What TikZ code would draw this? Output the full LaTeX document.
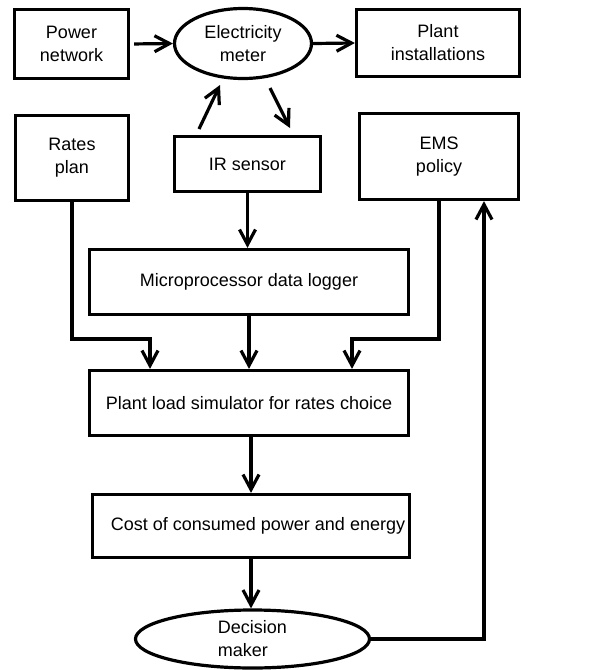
\documentclass[tikz,border=0pt]{standalone}
\usepackage{fontspec}
\setmainfont{Liberation Sans}
\usetikzlibrary{arrows.meta,shapes.geometric,calc}
\begin{document}
\begin{tikzpicture}[x=1pt,y=-1pt,
  box/.style={draw,line width=3.2pt,rectangle,inner sep=0pt,align=center,font=\fontsize{18}{23}\selectfont},
  oval/.style={box,ellipse},
  arr/.style={line width=3.2pt,-{Straight Barb[length=15pt,width=16pt]}}]
\useasboundingbox[fill=white] (0,0) rectangle (613,670);
\node[box,minimum width=114pt,minimum height=69pt] (pn) at (71.5,44) {Power\\network};
\node[oval,minimum width=137pt,minimum height=70pt] (em) at (243,43.5) {Electricity\\meter};
\node[box,minimum width=163pt,minimum height=67pt] (pi) at (438,43) {Plant\\installations};
\node[box,minimum width=113pt,minimum height=85pt] (rp) at (72,158) {Rates\\plan};
\node[box,minimum width=146pt,minimum height=55pt] (ir) at (247.5,164) {IR sensor};
\node[box,minimum width=159pt,minimum height=86pt] (ems) at (439,156.5) {EMS\\policy};
\node[box,minimum width=319pt,minimum height=65pt] (mdl) at (249,282) {Microprocessor data logger};
\node[box,minimum width=319pt,minimum height=65pt] (pls) at (249,403) {Plant load simulator for rates choice};
\node[box,minimum width=317pt,minimum height=63pt] (cost) at (251,526) {\hspace*{14pt}Cost of consumed power and energy};
\node[oval,align=left,minimum width=234pt,minimum height=58pt] (dm) at (252.5,639) {Decision\\maker};
\coordinate (u1) at (199,129);
\coordinate (u2) at (220,85);
\coordinate (d1) at (270,88);
\coordinate (d2) at (290,128);
\coordinate (j1) at (150,339);
\coordinate (j2) at (352,339);
\coordinate (j3) at ($(ems.south)+(45,0)$);
\draw[arr,shorten <=4pt] (pn.east) -- (em.west);
\draw[arr] (em.east) -- (pi.west);
\draw[arr] (u1) -- (u2);
\draw[arr] (d1) -- (d2);
\draw[arr] (ir.south) -- (ir.south |- mdl.north);
\draw[arr] (rp.south) |- (j1) -- (j1 |- pls.north);
\draw[arr] (mdl.south) -- (mdl.south |- pls.north);
\draw[arr] (ems.south) |- (j2) -- (j2 |- pls.north);
\draw[arr] (cost.north |- pls.south) -- (cost.north);
\draw[arr] (cost.south) -- (cost.south |- dm.north);
\draw[arr] (dm.east) -| (j3);
\end{tikzpicture}
\end{document}
